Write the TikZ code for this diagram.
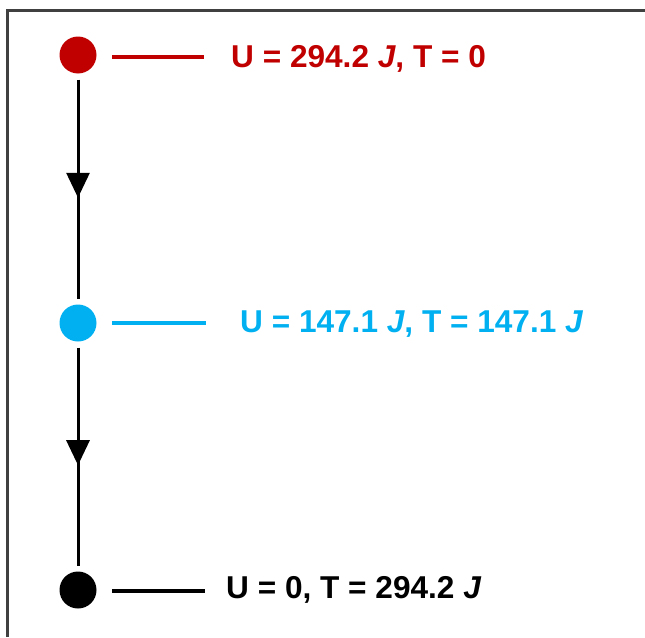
\documentclass[tikz,border=0pt]{standalone}
\usepackage{fontspec}
\setmainfont{Liberation Sans}
\usetikzlibrary{arrows.meta,decorations.markings}
\definecolor{potred}{HTML}{C00000}
\definecolor{midblue}{HTML}{00B0F0}
\begin{document}
\begin{tikzpicture}[x=1pt,y=-1pt,
  state/.style={circle,fill=#1,minimum size=37pt,inner sep=0pt,outer sep=6pt},
  lbl/.style={anchor=base west,inner sep=0pt,font=\fontsize{31.6}{36}\selectfont\bfseries,text=#1},
  tick/.style={draw=#1,line width=4.5pt},
  fall/.style={line width=3pt,postaction={decorate},
    decoration={markings,mark=at position 0.54 with {\arrow{Triangle[width=23pt,length=25pt]}}}}]
\useasboundingbox (0,0) rectangle (645,637);

% frame (top and left edges)
\draw[line width=3pt,black!75] (7,637) -- (7,10) -- (645,10);

% the three states
\node[state=potred]  (top) at (78,55)  {};
\node[state=midblue] (mid) at (78,323) {};
\node[state=black]   (bot) at (78,590) {};

% falling path
\draw[fall] (top) -- (mid);
\draw[fall] (mid) -- (bot);

% leader lines
\coordinate (ta) at (112,57);  \coordinate (tb) at (204,57);
\coordinate (ma) at (112,323); \coordinate (mb) at (206,323);
\coordinate (ba) at (112,591); \coordinate (bb) at (205,591);
\draw[tick=potred]  (ta) -- (tb);
\draw[tick=midblue] (ma) -- (mb);
\draw[tick=black]   (ba) -- (bb);

% energy labels
\node[lbl=potred]  (tl) at (231,67)  {U = 294.2 \textit{J}, T = 0};
\node[lbl=midblue] (ml) at (240,332) {U = 147.1 \textit{J}, T = 147.1 \textit{J}};
\node[lbl=black]   (bl) at (226,598) {U = 0, T = 294.2 \textit{J}};
\end{tikzpicture}
\end{document}
